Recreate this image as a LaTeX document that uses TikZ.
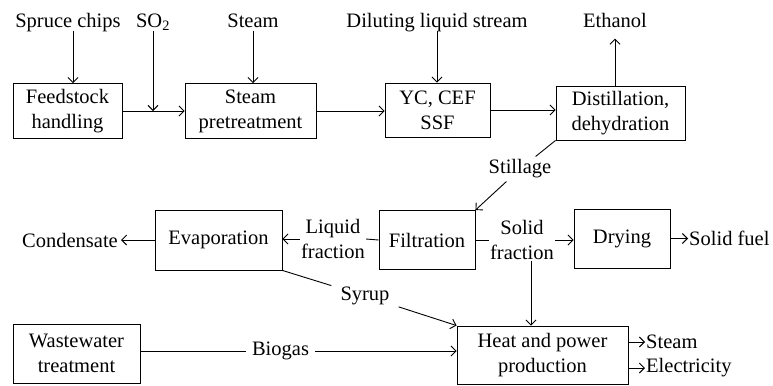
\documentclass[tikz,border=0pt]{standalone}
\usepackage{fontspec}
\setmainfont{Liberation Serif}
\usetikzlibrary{arrows.meta,calc}
\begin{document}
\begin{tikzpicture}[x=1bp,y=-1bp,
 every node/.style={font=\fontsize{20.5bp}{25bp}\selectfont},
 box/.style={draw,line width=0.9bp,align=center,inner sep=0pt},
 lbl/.style={align=center,inner sep=1bp},
 txt/.style={inner sep=1bp,text depth=0.25em},
 flow/.style={line width=0.9bp},
 arr/.style={flow,-{Straight Barb[length=5bp,width=10bp,line width=0.9bp]}}
]
\useasboundingbox (0,0) rectangle (773,385);
% boxes
\node[box,minimum width=109bp,minimum height=55bp] (feed) at (67.5,111) {Feedstock\\handling};
\node[box,minimum width=131bp,minimum height=55bp] (pre) at (250.5,111) {Steam\\pretreatment};
\node[box,minimum width=105bp,minimum height=54bp] (ssf) at (437.5,110) {YC, CEF\\SSF};
\node[box,minimum width=129bp,minimum height=54bp] (dist) at (620.5,113) {Distillation,\\dehydration};
\node[box,minimum width=127bp,minimum height=60bp] (evap) at (218.5,240) {Evaporation};
\node[box,minimum width=96bp,minimum height=59bp] (filt) at (427,240) {Filtration};
\node[box,minimum width=96bp,minimum height=59bp] (dry) at (622,238.5) {Drying};
\node[box,minimum width=171bp,minimum height=58bp] (heat) at (542.5,355) {Heat and power\\production};
\node[box,minimum width=127bp,minimum height=59bp] (waste) at (76.5,353.5) {Wastewater\\treatment};
% top texts
\node[txt,anchor=base] (spruce) at (68,27) {Spruce chips};
\node[txt,anchor=base] (so2) at (153,27) {SO\textsubscript{2}};
\node[txt,anchor=base] (steam) at (253,27) {Steam};
\node[txt,anchor=base] (dil) at (437,27) {Diluting liquid stream};
\node[txt,anchor=base] (eth) at (615,27) {Ethanol};
% labels
\node[lbl] (lf) at (333,239) {Liquid\\fraction};
\node[lbl,anchor=east,inner sep=3bp] (cond) at (121,240) {Condensate};
\node[lbl] (sf) at (522,240) {Solid\\fraction};
\node[lbl,anchor=west] (fuel) at (688,238.5) {Solid fuel};
\node[lbl,inner sep=3bp] (still) at (520,169) {Stillage};
\node[lbl,inner sep=9bp] (syrup) at (365,296) {Syrup};
\node[lbl,inner sep=6bp] (bio) at (280.5,351) {Biogas};
\node[lbl,anchor=west] (stout) at (645,342) {Steam};
\node[lbl,anchor=west] (elec) at (645,368) {Electricity};
% connectors
\draw[arr] ([xshift=5bp]spruce.south) -- ([xshift=5bp]spruce.south |- feed.north);
\coordinate (j) at (so2.south |- feed.east);
\draw[arr] (so2.south) -- (j);
\draw[arr] (feed.east) -- (pre.west);
\draw[arr] (steam.south) -- (steam.south |- pre.north);
\draw[arr] (pre.east) -- (pre.east -| ssf.west);
\draw[arr] (dil.south) -- (dil.south |- ssf.north);
\draw[arr] (ssf.east) -- (ssf.east -| dist.west);
\draw[arr] (dist.north -| eth.south) -- ([yshift=-8bp]eth.south);
\draw[flow] (dist.south west) -- (still);
\draw[arr] (still) -- (filt.north east);
\draw[flow] (filt.west) -- (lf.east);
\draw[arr] (lf.west) -- (lf.west -| evap.east);
\draw[arr] (evap.west) -- (cond.east);
\draw[flow] (filt.east) -- (sf.west);
\draw[arr] (sf.east) -- (sf.east -| dry.west);
\draw[arr] (dry.east) -- (fuel.west);
\draw[arr] ([xshift=9bp]sf.south) -- ([xshift=9bp]sf.south |- heat.north);
\draw[flow] (evap.south east) -- (syrup);
\draw[arr] (syrup) -- (heat.north west);
\draw[flow] (bio.west -| waste.east) -- (bio.west);
\draw[arr] (bio.east) -- (bio.east -| heat.west);
\draw[arr] (stout.west -| heat.east) -- (stout.west);
\draw[arr] (elec.west -| heat.east) -- (elec.west);
\end{tikzpicture}
\end{document}
